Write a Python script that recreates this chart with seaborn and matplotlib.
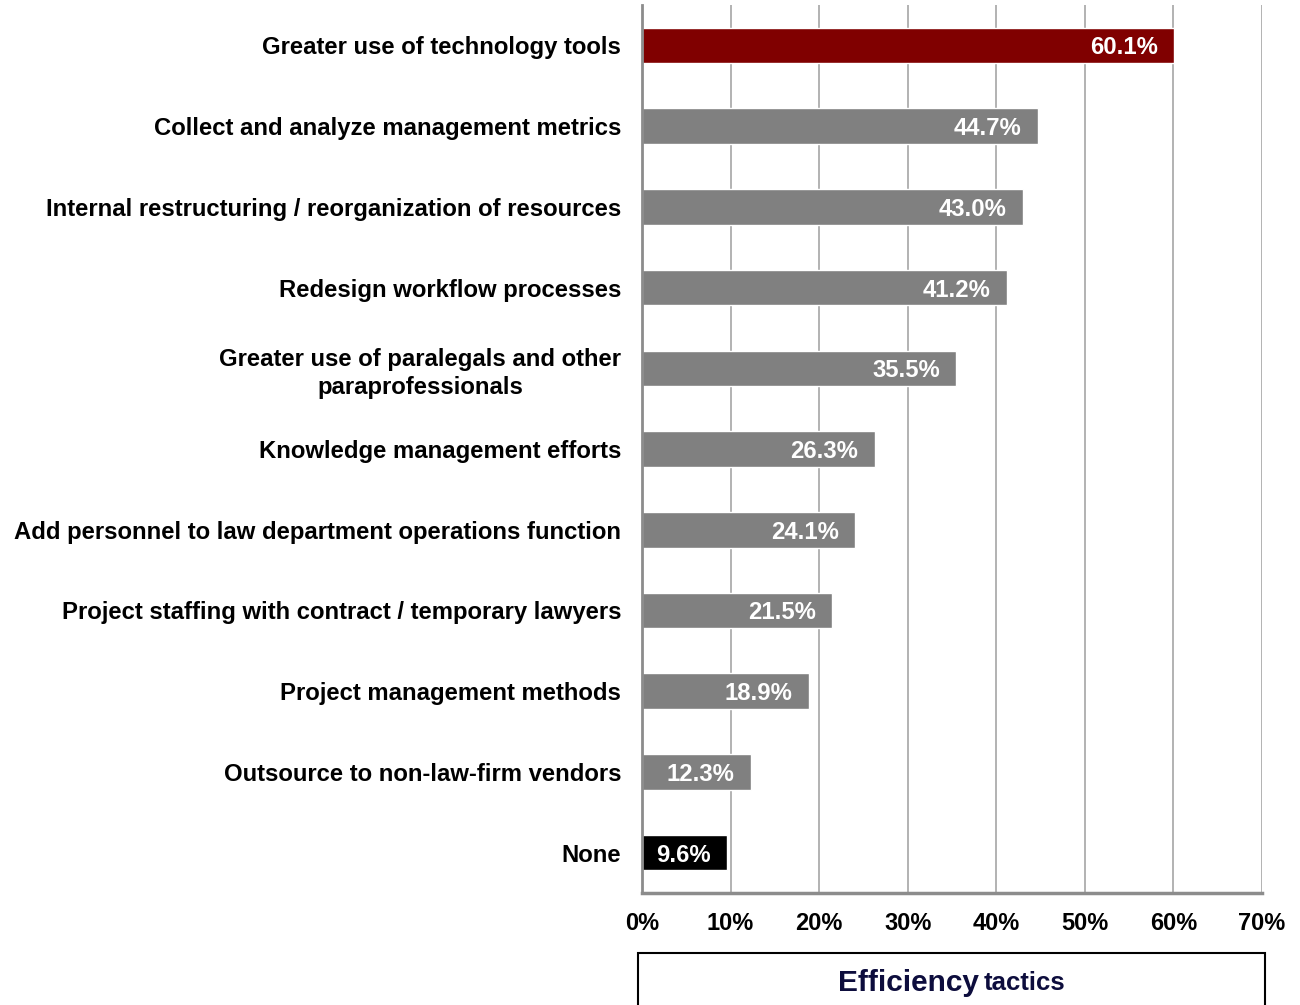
import matplotlib
matplotlib.use("Agg")
import matplotlib.pyplot as plt
import matplotlib.ticker as mtick
from matplotlib.patches import Rectangle
import seaborn as sns

sns.set_style("white")
plt.rcParams['font.family'] = ['Liberation Sans', 'DejaVu Sans']
plt.rcParams['font.weight'] = 'bold'
plt.rcParams['text.color'] = 'black'

categories = [
    "Greater use of technology tools",
    "Collect and analyze management metrics",
    "Internal restructuring / reorganization of resources",
    "Redesign workflow processes",
    "Greater use of paralegals and other\nparaprofessionals",
    "Knowledge management efforts",
    "Add personnel to law department operations function",
    "Project staffing with contract / temporary lawyers",
    "Project management methods",
    "Outsource to non-law-firm vendors",
    "None",
]
values = [60.1, 44.7, 43.0, 41.2, 35.5, 26.3, 24.1, 21.5, 18.9, 12.3, 9.6]
bar_colors = ["#800000"] + ["#808080"] * 9 + ["#000000"]
x_ticks = [0, 10, 20, 30, 40, 50, 60, 70]
box_title = "Efficiency"
box_subtitle = "tactics"

fig = plt.figure(figsize=(13, 10.05), dpi=100)
ax = fig.add_axes([0.4938, 0.1114, 0.4770, 0.8836])

sns.barplot(x=values, y=categories, hue=categories, palette=bar_colors,
            legend=False, width=0.44, orient="h", saturation=1, ax=ax)

# value labels inside the bar end
for i, v in enumerate(values):
    ax.annotate(f"{v:.1f}%", xy=(v, i), xytext=(-12, 0), textcoords="offset points",
                ha="right", va="center_baseline", color="white", fontsize=17.2,
                fontweight="bold")

ax.set_xlim(0, 70)
ax.set_ylim(len(categories) - 0.5, -0.5)
ax.set_xticks(x_ticks)
ax.xaxis.set_major_formatter(mtick.PercentFormatter(decimals=0))
ax.xaxis.grid(True, color="#a6a6a6", linewidth=1.2)
ax.set_axisbelow(True)
ax.set_xlabel("")
ax.set_ylabel("")

ax.tick_params(axis="x", length=6, width=1.5, color="#8c8c8c", pad=8,
               labelsize=17, labelcolor="black")
ax.tick_params(axis="y", which="major", length=0, pad=15, labelsize=17.2,
               labelcolor="black")
ax.set_yticks([i - 0.5 for i in range(len(categories) + 1)], minor=True)
ax.tick_params(axis="y", which="minor", length=6, width=1.5, color="#8c8c8c")
for lbl in ax.get_yticklabels():
    lbl.set_fontweight("bold")
    lbl.set_multialignment("center")
    lbl.set_linespacing(1.3)
for lbl in ax.get_xticklabels():
    lbl.set_fontweight("bold")

for side in ["top", "right"]:
    ax.spines[side].set_visible(False)
ax.spines["left"].set_color("#8c8c8c")
ax.spines["left"].set_linewidth(2)
ax.spines["bottom"].set_color("#8c8c8c")
ax.spines["bottom"].set_linewidth(2.5)

# box at the bottom
fig.patches.append(Rectangle((638 / 1300, -0.05), 627 / 1300, 0.05 + 52 / 1005,
                             transform=fig.transFigure, facecolor="white",
                             edgecolor="black", linewidth=1.5, clip_on=False))
t1 = fig.text(0.6985, 1 - 983 / 1005, box_title, ha="center", va="center",
              fontsize=21.5, fontweight="bold", color="#0d0d3d")
fig.canvas.draw()
bb = t1.get_window_extent().transformed(fig.transFigure.inverted())
fig.text(bb.x1 + 0.004, 1 - 983 / 1005, box_subtitle, ha="left", va="center",
         fontsize=18.5, fontweight="bold", color="#0d0d3d")

fig.savefig("out.png", dpi=100)
